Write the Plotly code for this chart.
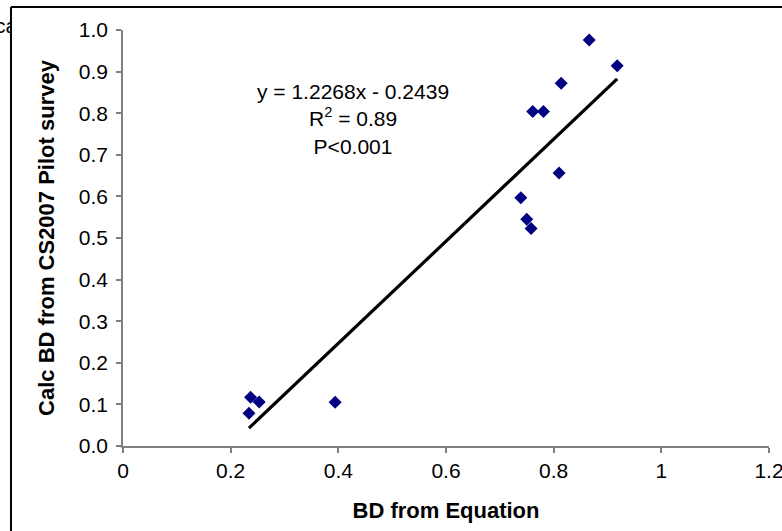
import plotly.graph_objects as go

# Data
bd_equation = [0.234, 0.237, 0.253, 0.394, 0.739, 0.750, 0.758, 0.761, 0.781, 0.810, 0.814, 0.866, 0.918]
bd_cs2007 = [0.079, 0.117, 0.106, 0.105, 0.597, 0.545, 0.523, 0.804, 0.804, 0.656, 0.872, 0.976, 0.914]

slope = 1.2268
intercept = -0.2439
r2_text = "0.89"
p_text = "P<0.001"

x_ticks = [0, 0.2, 0.4, 0.6, 0.8, 1.0, 1.2]
x_tick_text = ["0", "0.2", "0.4", "0.6", "0.8", "1", "1.2"]
y_ticks = [0.0, 0.1, 0.2, 0.3, 0.4, 0.5, 0.6, 0.7, 0.8, 0.9, 1.0]

FONT = "Liberation Sans, Arial, sans-serif"

xmin, xmax = min(bd_equation), max(bd_equation)
trend_x = [xmin, xmax]
trend_y = [slope * v + intercept for v in trend_x]

fig = go.Figure()
fig.add_trace(go.Scatter(
    x=trend_x, y=trend_y, mode="lines",
    line=dict(color="black", width=3.2), showlegend=False, hoverinfo="skip"))
fig.add_trace(go.Scatter(
    x=bd_equation, y=bd_cs2007, mode="markers",
    marker=dict(symbol="diamond", size=10, color="#000080", line=dict(width=0)),
    showlegend=False))

fig.add_annotation(
    x=0.428, y=0.786, xref="x", yref="y",
    text=f"y = {slope:.4f}x - {abs(intercept):.4f}<br>R<sup>2</sup> = {r2_text}<br>{p_text}",
    showarrow=False, align="center", font=dict(family=FONT, size=21, color="black"))

# partially hidden text at the top-left edge, behind the frame
fig.add_annotation(
    x=-0.1594, y=1.012, xref="paper", yref="paper", xanchor="right", yanchor="middle",
    text="ca", showarrow=False, font=dict(family=FONT, size=21, color="black"))
# white cover: the frame hides the rest of that text
fig.add_annotation(
    x=-0.1718, y=1.012, xref="paper", yref="paper", xanchor="left", yanchor="middle",
    text=" ", width=24, height=30, bgcolor="white", borderpad=0, borderwidth=0,
    showarrow=False, font=dict(family=FONT, size=21, color="white"))

# outer frame (left and top edges visible)
fig.add_shape(type="line", xref="paper", yref="paper",
              x0=-0.1734, x1=-0.1734, y0=1.0553, y1=-0.3, line=dict(color="black", width=2))
fig.add_shape(type="line", xref="paper", yref="paper",
              x0=-0.1734, x1=1.2, y0=1.0553, y1=1.0553, line=dict(color="black", width=2))

fig.update_layout(
    width=782, height=531,
    margin=dict(l=123, r=13, t=30, b=85, autoexpand=False),
    paper_bgcolor="white", plot_bgcolor="white",
    font=dict(family=FONT, size=21, color="black"),
    xaxis=dict(
        range=[0, 1.2], tickvals=x_ticks, ticktext=x_tick_text,
        showgrid=False, zeroline=False, showline=True, linecolor="#808080", linewidth=1.5,
        ticks="outside", ticklen=5, tickcolor="#808080", tickwidth=1.5,
        ticklabeloverflow="allow",
        tickfont=dict(family=FONT, size=21, color="black"),
        title=dict(text="<b>BD from Equation</b>", font=dict(family=FONT, size=22, color="black"), standoff=22),
        automargin=False),
    yaxis=dict(
        range=[0, 1.0], tickvals=y_ticks, tickformat=".1f",
        showgrid=False, zeroline=False, showline=True, linecolor="#808080", linewidth=1.5,
        ticks="outside", ticklen=5, tickcolor="#808080", tickwidth=1.5,
        ticklabelstandoff=4, ticklabeloverflow="allow",
        tickfont=dict(family=FONT, size=21, color="black"),
        title=dict(text="<b>Calc BD from CS2007 Pilot survey</b>", font=dict(family=FONT, size=22, color="black"), standoff=18),
        automargin=False),
)

fig.write_html("out.html")
